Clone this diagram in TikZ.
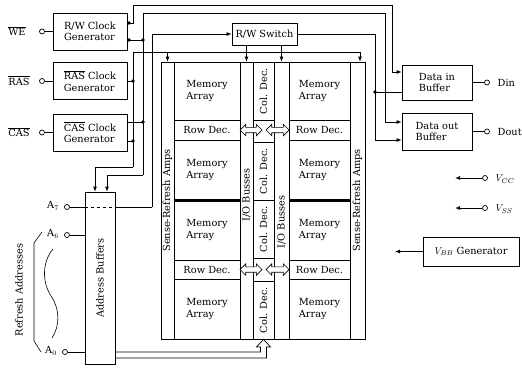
\documentclass[tikz,border=0pt]{standalone}
\usepackage{fontspec}
\setmainfont{DejaVu Serif}
\usetikzlibrary{arrows.meta,shapes.arrows}

\begin{document}
\begin{tikzpicture}[x=1pt,y=-1pt,line width=0.8pt,
  font=\fontsize{9.8}{11.5}\selectfont,
  >={Latex[length=5pt,width=4pt]},
  blk/.style={draw,align=left,inner sep=0pt},
  pin/.style={circle,draw,fill=white,inner sep=0pt,minimum size=5pt,line width=0.7pt},
  jdot/.style={circle,fill,inner sep=0pt,minimum size=3.6pt},
  fatarr/.style={double arrow,draw,fill=white,inner sep=2.3pt,double arrow head extend=3pt,line width=0.7pt}]
\useasboundingbox (0,0) rectangle (522,367);

\node[blk,minimum width=74pt,minimum height=37pt] (rwclk) at (90,31.5) {R/W Clock\\Generator};
\node[blk,minimum width=74pt,minimum height=37pt] (rasclk) at (90,81) {$\overline{\hbox{RAS}}$ Clock\\Generator};
\node[blk,minimum width=74pt,minimum height=37pt] (casclk) at (90,132.5) {$\overline{\hbox{CAS}}$ Clock\\Generator};
\node[pin] (we) at (42,31.5) {};
\node[pin] (ras) at (42,81) {};
\node[pin] (cas) at (42,132.5) {};
\node (welbl) at (17,31) {$\overline{\hbox{WE}}$};
\node (raslbl) at (19,80.5) {$\overline{\hbox{RAS}}$};
\node (caslbl) at (19,132) {$\overline{\hbox{CAS}}$};
\draw (we) -- (rwclk);
\draw (ras) -- (rasclk);
\draw (cas) -- (casclk);

\node[blk,minimum width=65pt,minimum height=22pt] (rwsw) at (264.5,34) {R/W Switch};
\node[blk,minimum width=70pt,minimum height=35pt] (din) at (437,82.5) {Data in\\Buffer};
\node[blk,minimum width=70pt,minimum height=37pt] (dout) at (437,131.5) {Data out\\Buffer};
\node[pin] (dinpin) at (487,82.5) {};
\node[pin] (doutpin) at (487,131.5) {};
\node[anchor=west] (dinlbl) at (494,82.5) {Din};
\node[anchor=west] (doutlbl) at (494,131.5) {Dout};
\draw (din) -- (dinpin);
\draw (dout) -- (doutpin);

\node[pin] (vcc) at (485,178) {};
\node[pin] (vss) at (485,208) {};
\coordinate (vccend) at (455,178);
\coordinate (vssend) at (455,208);
\node[anchor=west] (vcclbl) at (492,179) {$V_{CC}$};
\node[anchor=west] (vsslbl) at (492,209) {$V_{SS}$};
\draw[->] (vcc) -- (vccend);
\draw[->] (vss) -- (vssend);
\node[blk,minimum width=96pt,minimum height=29pt] (vbb) at (471,251.5) {$V_{BB}$ Generator};
\coordinate (vbbend) at (395,251.5);
\draw[->] (vbb) -- (vbbend);

\node[draw,minimum width=13pt,minimum height=277pt,inner sep=0pt] (senseL) at (167.5,200.5) {};
\node[draw,minimum width=15pt,minimum height=277pt,inner sep=0pt] (senseR) at (357.5,200.5) {};
\node[draw,minimum width=13pt,minimum height=277pt,inner sep=0pt] (ioL) at (246.5,200.5) {};
\node[draw,minimum width=15pt,minimum height=277pt,inner sep=0pt] (ioR) at (281.5,200.5) {};
\node[rotate=90] (senseLt) at (167.5,200.5) {Sense-Refresh Amps};
\node[rotate=90] (senseRt) at (357.5,200.5) {Sense-Refresh Amps};
\node[rotate=90] (ioLt) at (246.5,195) {I/O Busses};
\node[rotate=90] (ioRt) at (281.5,222) {I/O Busses};

\node[blk,minimum width=66pt,minimum height=58pt] (memL1) at (207,91) {Memory\\Array};
\node[blk,minimum width=66pt,minimum height=20pt] (rowL1) at (207,130) {Row Dec.};
\node[blk,minimum width=66pt,minimum height=60pt] (memL2) at (207,170) {Memory\\Array};
\node[blk,minimum width=66pt,minimum height=60pt] (memL3) at (207,230) {Memory\\Array};
\node[blk,minimum width=66pt,minimum height=19pt] (rowL2) at (207,269.5) {Row Dec.};
\node[blk,minimum width=66pt,minimum height=60pt] (memL4) at (207,309) {Memory\\Array};
\node[blk,minimum width=61pt,minimum height=58pt] (memR1) at (319.5,91) {Memory\\Array};
\node[blk,minimum width=61pt,minimum height=20pt] (rowR1) at (319.5,130) {Row Dec.};
\node[blk,minimum width=61pt,minimum height=60pt] (memR2) at (319.5,170) {Memory\\Array};
\node[blk,minimum width=61pt,minimum height=60pt] (memR3) at (319.5,230) {Memory\\Array};
\node[blk,minimum width=61pt,minimum height=19pt] (rowR2) at (319.5,269.5) {Row Dec.};
\node[blk,minimum width=61pt,minimum height=60pt] (memR4) at (319.5,309) {Memory\\Array};
\draw[line width=2.6pt] (memL2.south west) -- (memL2.south east);
\draw[line width=2.6pt] (memR2.south west) -- (memR2.south east);

\node[blk,rotate=90,minimum width=58pt,minimum height=21pt] (cd1) at (263.5,91) {Col. Dec.};
\node[blk,rotate=90,minimum width=58pt,minimum height=21pt] (cd2) at (263.5,171) {Col. Dec.};
\node[blk,rotate=90,minimum width=58pt,minimum height=21pt] (cd3) at (263.5,229) {Col. Dec.};
\node[blk,rotate=90,minimum width=58pt,minimum height=21pt] (cd4) at (263.5,310) {Col. Dec.};
\node[fatarr,minimum height=22pt] (fa1) at (251,130) {};
\node[fatarr,minimum height=23pt] (fa2) at (277.5,130) {};
\node[fatarr,minimum height=22pt] (fa3) at (251,269.5) {};
\node[fatarr,minimum height=23pt] (fa4) at (277.5,269.5) {};

\node[blk,rotate=90,minimum width=172pt,minimum height=30pt] (adr) at (100,278) {Address Buffers};
\node[pin] (a7) at (67,207) {};
\node[pin] (a6) at (67,235) {};
\node[pin] (a0) at (65,352) {};
\node (a7lbl) at (53,206) {A$_7$};
\node (a6lbl) at (53,234) {A$_6$};
\node (a0lbl) at (51,351) {A$_0$};
\draw (a7) -- (adr.north |- a7);
\draw (a6) -- (adr.north |- a6);
\draw (a0) -- (adr.north |- a0);
\draw[dashed] (adr.north |- a7) -- (adr.south |- a7);
\node[rotate=90] (refr) at (19,290) {Refresh Addresses};
\draw[line width=0.6pt] (42,232) -- (34,243) -- (34,341) -- (41,352);
\draw[line width=0.6pt] (53,249) .. controls (42,262) and (42,282) .. (51,296) .. controls (60,309) and (60,326) .. (52,338);

\draw[->] ([yshift=8.5pt]rwclk.east) -- (133,23) -- (133,5) -- (392,5) |- ([yshift=10.5pt]din.west);
\draw[->] (143,175) -- (143,13) -- (385,13) |- ([yshift=9.5pt]dout.west);
\draw[->] (143,175) -- (107,175) -- ([xshift=7pt]adr.east);
\draw ([yshift=-8.5pt]rwclk.east) -- (143,40);
\draw ([yshift=10.5pt]casclk.east) -- (143,122);
\draw[->] (133,167) -- (133,52) -- (360,52) -- ([xshift=2.5pt]senseR.north);
\draw[->] (133,167) -- (95,167) -- ([xshift=-5pt]adr.east);
\draw (rasclk.east) -- (133,81);
\draw ([yshift=-8.5pt]casclk.east) -- (133,141);
\draw[->] (167.5,52) -- (senseL.north);
\draw[->] (152,207) -- (152,34) -- (rwsw.west);
\draw (adr.south |- a7) -- (152,207);
\draw[->] (ioL.north |- rwsw.south) -- (ioL.north);
\draw[->] (ioR.north |- rwsw.south) -- (ioR.north);
\draw[->] (rwsw.east) -| (375,140) -- ([yshift=-8.5pt]dout.west);
\draw (375,92) -- ([yshift=-9.5pt]din.west);
\draw[line width=0.7pt] (adr.south |- 0,352) -- (260.5,352) -- (260.5,347) -- (256.5,347) -- (cd4.west) -- (270.5,347) -- (266.5,347) -- (266.5,358) -- (adr.south |- 0,358);

\node[jdot] at (129,23) {};
\node[jdot] at (129,40) {};
\node[jdot] at (143,40) {};
\node[jdot] at (133,81) {};
\node[jdot] at (143,122) {};
\node[jdot] at (133,141) {};
\node[jdot] at (375,92) {};
\end{tikzpicture}
\end{document}
